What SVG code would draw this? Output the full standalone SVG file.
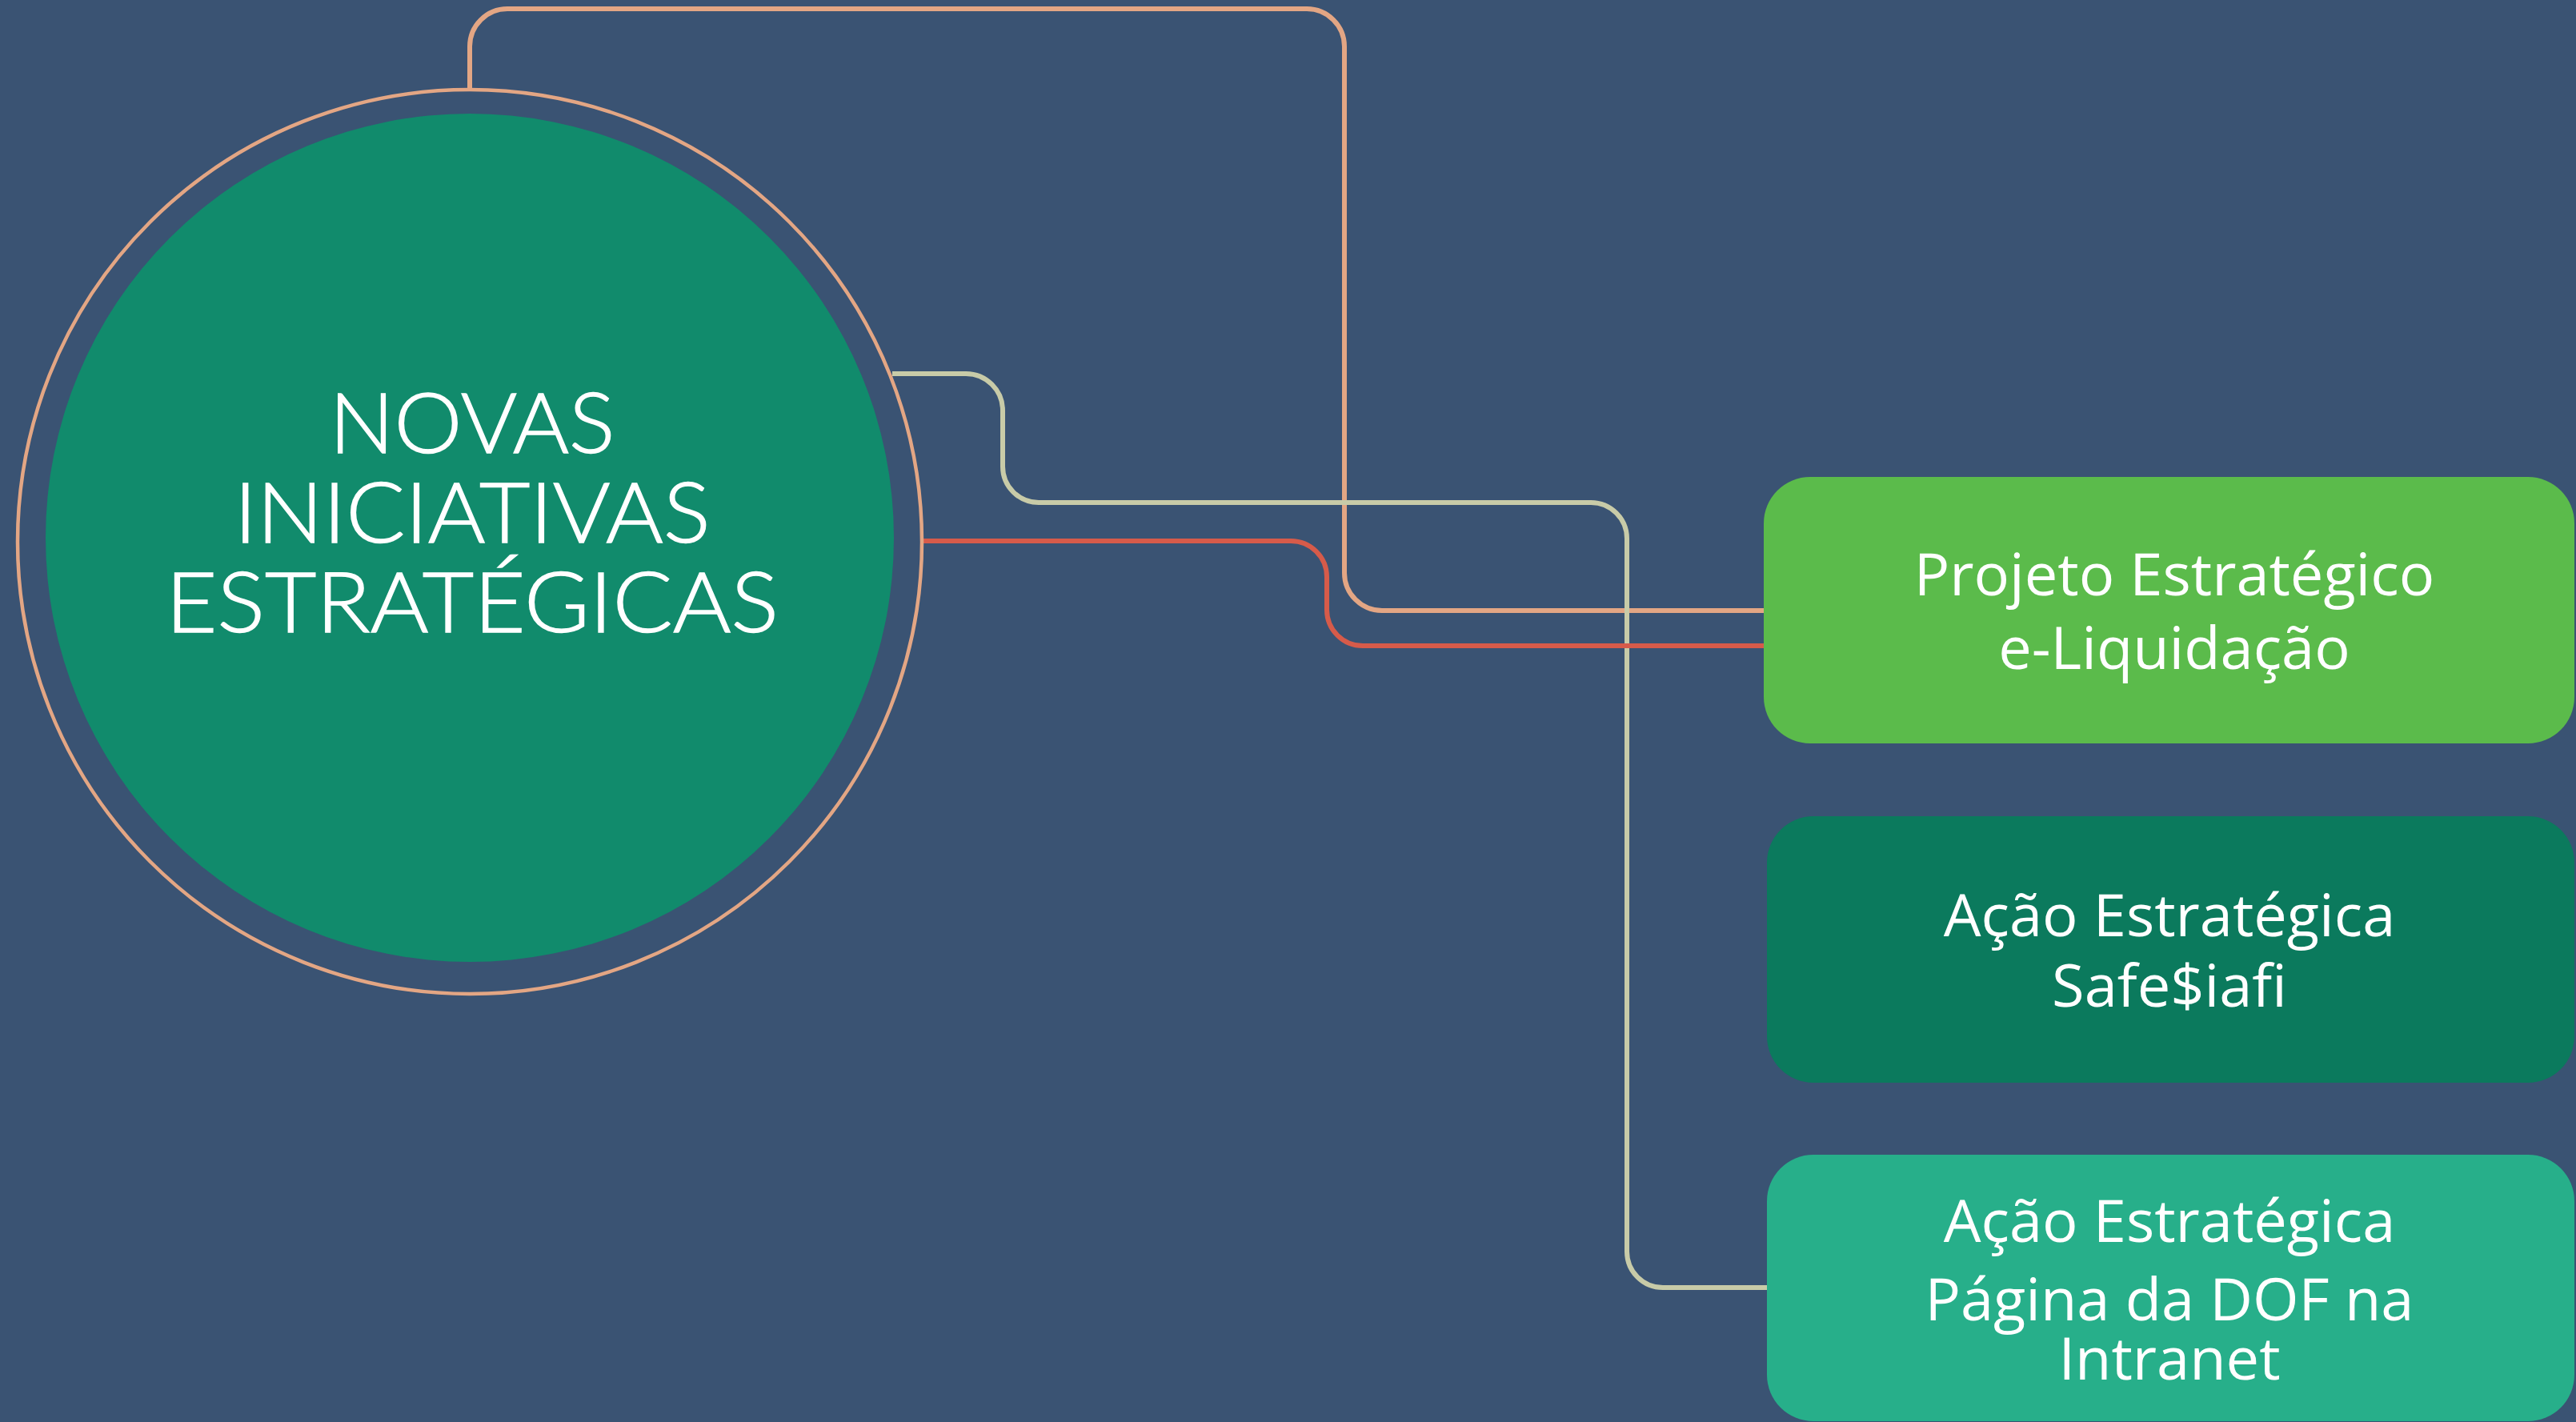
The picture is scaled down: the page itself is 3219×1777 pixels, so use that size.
<svg xmlns="http://www.w3.org/2000/svg" width="3219" height="1777" viewBox="0 0 3219 1777">
<style>
.conn{fill:none;stroke-width:6;stroke-linejoin:round}
.c1{stroke:#E3A684}
.c2{stroke:#C8CBA8}
.c3{stroke:#D65B4A}
.t{font-family:"Open Sans","Noto Sans",sans-serif;font-size:74px;fill:#FFFFFF;text-anchor:middle}
.ct{font-family:Lato,"Noto Sans",sans-serif;font-weight:300;font-size:105px;fill:#FFFFFF;stroke:#FFFFFF;stroke-width:1.4;text-anchor:middle}
</style>
<rect x="0" y="0" width="3219" height="1777" fill="#3A5373"/>
<g id="connectors">
<path class="conn c1" d="M587,111 V58 A47,47 0 0 1 634,11 H1633 A47,47 0 0 1 1680,58 V716 A47,47 0 0 0 1727,763 H2206"/>
<path class="conn c2" d="M1115,467 H1207 A46,46 0 0 1 1253,513 V583 A45,45 0 0 0 1298,628 H1988 A45,45 0 0 1 2033,673 V1564 A45,45 0 0 0 2078,1609 H2210"/>
<path class="conn c3" d="M1153,676 H1613 A45,45 0 0 1 1658,721 V762 A45,45 0 0 0 1703,807 H2206"/>
</g>
<g id="center">
<circle cx="587" cy="677" r="565" fill="none" stroke="#E3A684" stroke-width="4.5"/>
<circle cx="587" cy="672" r="530" fill="#118B6C"/>
<text class="ct" x="590" y="566" textLength="357" lengthAdjust="spacingAndGlyphs">NOVAS</text>
<text class="ct" x="590" y="678" textLength="595" lengthAdjust="spacingAndGlyphs">INICIATIVAS</text>
<text class="ct" x="590" y="790" textLength="766" lengthAdjust="spacingAndGlyphs">ESTRATÉGICAS</text>
</g>
<g id="node-eliquidacao">
<rect x="2204" y="596" width="1013" height="333" rx="58" ry="58" fill="#5BBB4B"/>
<text class="t" x="2717" y="744">Projeto Estratégico</text>
<text class="t" x="2717" y="836">e-Liquidação</text>
</g>
<g id="node-safesiafi">
<rect x="2208" y="1020" width="1009" height="333" rx="58" ry="58" fill="#0B7A5D"/>
<text class="t" x="2711" y="1170">Ação Estratégica</text>
<text class="t" x="2711" y="1258">Safe$iafi</text>
</g>
<g id="node-pagina-dof">
<rect x="2208" y="1443" width="1009" height="333" rx="58" ry="58" fill="#27AF8A"/>
<text class="t" x="2711" y="1552">Ação Estratégica</text>
<text class="t" x="2711" y="1650">Página da DOF na</text>
<text class="t" x="2711" y="1724">Intranet</text>
</g>
</svg>
